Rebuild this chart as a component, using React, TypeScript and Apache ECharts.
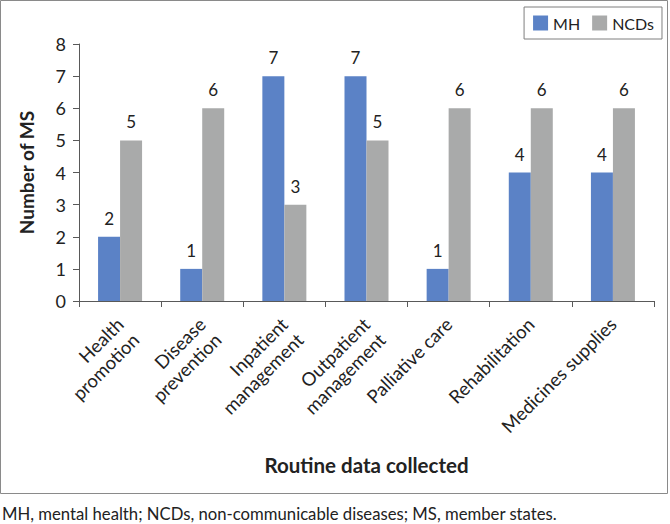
import React, { useEffect, useRef } from "react";
import * as echarts from "echarts";

const categories = [
  "Health\npromotion",
  "Disease\nprevention",
  "Inpatient\nmanagement",
  "Outpatient\nmanagement",
  "Palliative care",
  "Rehabilitation",
  "Medicines supplies",
];
const mhValues = [2, 1, 7, 7, 1, 4, 4];
const ncdValues = [5, 6, 3, 5, 6, 6, 6];
const yTicks = { min: 0, max: 8, interval: 1 };

const FONT = "Lato, 'Open Sans', sans-serif";
const TEXT = "#222222";
const AXIS = "#595959";

export default function App() {
  const ref = useRef<HTMLDivElement>(null);

  useEffect(() => {
    document.body.style.margin = "0";
    if (!ref.current) return;
    const chart = echarts.init(ref.current, undefined, { renderer: "svg" });

    const labelStyle = {
      show: true,
      position: "top" as const,
      distance: 10,
      fontSize: 17,
      color: TEXT,
      fontFamily: FONT,
    };

    chart.setOption({
      animation: false,
      backgroundColor: "#ffffff",
      textStyle: { fontFamily: FONT, color: TEXT },
      grid: { left: 79, right: 16, top: 44, bottom: 223, containLabel: false },
      legend: {
        right: 8,
        top: 7,
        orient: "horizontal",
        icon: "rect",
        itemWidth: 15,
        itemHeight: 15,
        itemGap: 12,
        padding: [8, 8, 8, 9],
        borderColor: "#7f7f7f",
        borderWidth: 1,
        textStyle: { fontSize: 16, color: TEXT, fontFamily: FONT },
        data: ["MH", "NCDs"],
      },
      xAxis: {
        type: "category",
        data: categories,
        name: "Routine data collected",
        nameLocation: "middle",
        nameGap: 153,
        nameTextStyle: { fontSize: 20.5, fontWeight: "bold", color: TEXT, fontFamily: FONT },
        axisLine: { show: true, lineStyle: { color: AXIS, width: 1 } },
        axisTick: { show: true, length: 6, alignWithLabel: false, lineStyle: { color: AXIS } },
        axisLabel: {
          interval: 0,
          rotate: 45,
          margin: 20,
          fontSize: 18.5,
          lineHeight: 22,
          color: TEXT,
          fontFamily: FONT,
          // two-line labels hang from their first line: an empty leading line
          // keeps the first line on the same anchor as the one-line labels
          formatter: (v: string) => (v.includes("\n") ? "\n" + v : v),
        },
      },
      yAxis: {
        type: "value",
        min: yTicks.min,
        max: yTicks.max,
        interval: yTicks.interval,
        name: "Number of MS",
        nameLocation: "middle",
        nameGap: 43,
        nameRotate: 90,
        nameTextStyle: { fontSize: 19, fontWeight: "bold", color: TEXT, fontFamily: FONT },
        axisLine: { show: true, lineStyle: { color: AXIS, width: 1 } },
        axisTick: { show: true, length: 6, lineStyle: { color: AXIS } },
        splitLine: { show: false },
        axisLabel: { margin: 13, fontSize: 18, color: TEXT, fontFamily: FONT },
      },
      series: [
        {
          name: "MH",
          type: "bar",
          data: mhValues,
          barWidth: 22,
          barGap: "0%",
          itemStyle: { color: "#5b82c6" },
          label: labelStyle,
        },
        {
          name: "NCDs",
          type: "bar",
          data: ncdValues,
          barWidth: 22,
          barGap: "0%",
          itemStyle: { color: "#a9aaaa" },
          label: labelStyle,
        },
      ],
      graphic: [
        {
          type: "rect",
          shape: { x: 0.5, y: 0.5, width: 667, height: 493 },
          style: { fill: "none", stroke: "#8a8a8a", lineWidth: 1 },
          silent: true,
        },
        {
          type: "text",
          left: 2,
          top: 505,
          style: {
            text: "MH, mental health; NCDs, non-communicable diseases; MS, member states.",
            fontSize: 16.7,
            fontFamily: FONT,
            fill: TEXT,
          },
        },
      ],
    });

    return () => chart.dispose();
  }, []);

  return <div ref={ref} style={{ width: 670, height: 524 }} />;
}
